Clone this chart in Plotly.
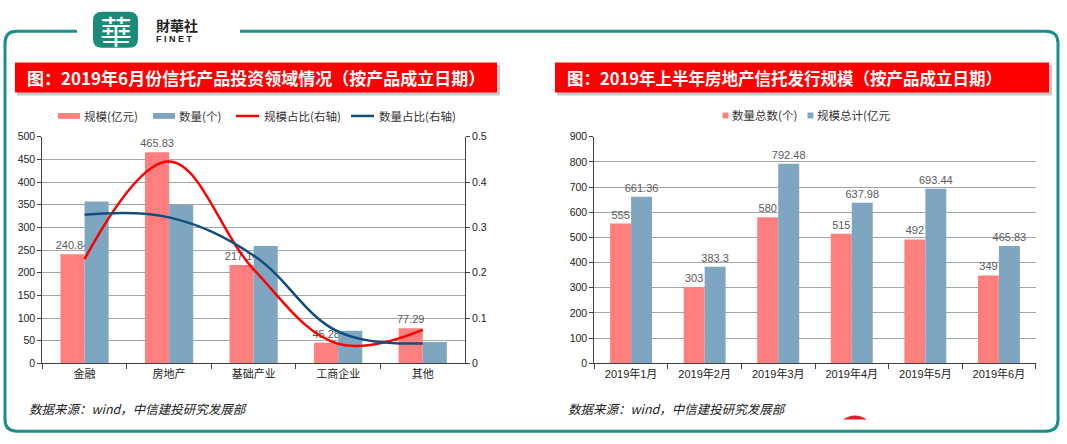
import plotly.graph_objects as go

W, H = 1067, 444

# ---------------- data ----------------
cats1 = ["金融", "房地产", "基础产业", "工商企业", "其他"]
scale1 = [240.84, 465.83, 217.14, 45.28, 77.29]          # 规模(亿元)
count1 = [357, 350, 259, 72, 47]                          # 数量(个)
scale_ratio = [0.230, 0.445, 0.2075, 0.0433, 0.0739]      # 规模占比(右轴)
count_ratio = [0.328, 0.322, 0.238, 0.070, 0.044]         # 数量占比(右轴)

cats2 = ["2019年1月", "2019年2月", "2019年3月", "2019年4月", "2019年5月", "2019年6月"]
count2 = [555, 303, 580, 515, 492, 349]                   # 数量总数(个)
scale2 = [661.36, 383.3, 792.48, 637.98, 693.44, 465.83]  # 规模总计(亿元)

title1 = "图：2019年6月份信托产品投资领域情况（按产品成立日期）"
title2 = "图：2019年上半年房地产信托发行规模（按产品成立日期）"
source = "数据来源：wind，中信建投研究发展部"

PINK = "#FF7F7F"
STEEL = "#7FA6C0"
RED = "#FF0000"
NAVY = "#114E7E"
TEAL = "#1A8F87"
FONT = "Liberation Sans, Noto Sans CJK SC, sans-serif"
CJK = "Noto Sans CJK SC, Liberation Sans, sans-serif"


def X(px):
    return px / W


def Y(py):
    return 1 - py / H


def fmt(v):
    return ("%g" % v)


label_font = dict(size=11, color="#5a5a5a", family=FONT)

fig = go.Figure()

# ---------------- left chart ----------------
fig.add_trace(go.Bar(x=cats1, y=scale1, name="规模(亿元)", marker_color=PINK,
                     marker_line_width=0, text=[fmt(v) for v in scale1],
                     textposition="outside", cliponaxis=False, constraintext="none",
                     textfont=label_font,
                     xaxis="x", yaxis="y", offsetgroup="a", showlegend=False))
fig.add_trace(go.Bar(x=cats1, y=count1, name="数量(个)", marker_color=STEEL,
                     marker_line_width=0, xaxis="x", yaxis="y",
                     offsetgroup="b", showlegend=False))
fig.add_trace(go.Scatter(x=cats1, y=scale_ratio, name="规模占比(右轴)", mode="lines",
                         line=dict(color=RED, width=2.5, shape="spline", smoothing=1.1),
                         xaxis="x", yaxis="y2", showlegend=False))
fig.add_trace(go.Scatter(x=cats1, y=count_ratio, name="数量占比(右轴)", mode="lines",
                         line=dict(color=NAVY, width=2.5, shape="spline", smoothing=1.1),
                         xaxis="x", yaxis="y2", showlegend=False))

# ---------------- right chart ----------------
fig.add_trace(go.Bar(x=cats2, y=count2, name="数量总数(个)", marker_color=PINK,
                     marker_line_width=0, text=[fmt(v) for v in count2],
                     textposition="outside", cliponaxis=False, constraintext="none",
                     textfont=label_font,
                     xaxis="x2", yaxis="y3", offsetgroup="a", showlegend=False))
fig.add_trace(go.Bar(x=cats2, y=scale2, name="规模总计(亿元", marker_color=STEEL,
                     marker_line_width=0, text=[fmt(v) for v in scale2],
                     textposition="outside", cliponaxis=False, constraintext="none",
                     textfont=label_font,
                     xaxis="x2", yaxis="y3", offsetgroup="b", showlegend=False))

ydom = [Y(367.3), Y(134.3)]
axis_common = dict(showline=True, linecolor="#404040", linewidth=1,
                   tickcolor="#404040", tickfont=dict(size=10.5, color="#222", family=FONT),
                   zeroline=False)

fig.update_layout(
    width=W, height=H,
    margin=dict(l=0, r=0, t=0, b=0),
    paper_bgcolor="white", plot_bgcolor="white",
    barmode="group", bargap=0.43, bargroupgap=0,
    xaxis=dict(domain=[X(42.3), X(465)], anchor="y", type="category",
               tickson="boundaries", ticks="outside", ticklen=5,
               range=[-0.5, 4.5], showgrid=False,
               **{**axis_common, "tickfont": dict(size=11, color="#222", family=CJK)}),
    yaxis=dict(domain=ydom, anchor="x", range=[0, 500], dtick=50,
               ticks="outside", ticklen=4, showgrid=True, gridcolor="#a6a6a6",
               gridwidth=1, **axis_common),
    yaxis2=dict(overlaying="y", side="right", anchor="x", range=[0, 0.5], dtick=0.1,
                ticks="outside", ticklen=4, showgrid=False, **axis_common),
    xaxis2=dict(domain=[X(594.3), X(1035.7)], anchor="y3", type="category",
                tickson="boundaries", ticks="outside", ticklen=5,
                range=[-0.5, 5.5], showgrid=False,
                **{**axis_common, "tickfont": dict(size=11, color="#222", family=FONT)}),
    yaxis3=dict(domain=ydom, anchor="x2", range=[0, 900], dtick=100,
                ticks="outside", ticklen=4, showgrid=True, gridcolor="#a6a6a6",
                gridwidth=1, **axis_common),
)

shapes = []
annos = []

# ---------------- frame ----------------
r = 12
frame = (f"M {X(77)},{Y(26)} L {X(5 + r)},{Y(26)} Q {X(5)},{Y(26)} {X(5)},{Y(26 + r)} "
         f"L {X(5)},{Y(437 - r)} Q {X(5)},{Y(437)} {X(5 + r)},{Y(437)} "
         f"L {X(1058 - r)},{Y(437)} Q {X(1058)},{Y(437)} {X(1058)},{Y(437 - r)} "
         f"L {X(1058)},{Y(26 + r)} Q {X(1058)},{Y(26)} {X(1058 - r)},{Y(26)} "
         f"L {X(240)},{Y(26)}")
shapes.append(dict(type="path", xref="paper", yref="paper", path=frame,
                   line=dict(color=TEAL, width=3), layer="below"))

# ---------------- logo ----------------
lr = 9
logo = (f"M {X(93 + lr)},{Y(6)} L {X(138 - lr)},{Y(6)} Q {X(138)},{Y(6)} {X(138)},{Y(6 + lr)} "
        f"L {X(138)},{Y(43 - lr)} Q {X(138)},{Y(43)} {X(138 - lr)},{Y(43)} "
        f"L {X(93 + lr)},{Y(43)} Q {X(93)},{Y(43)} {X(93)},{Y(43 - lr)} "
        f"L {X(93)},{Y(6 + lr)} Q {X(93)},{Y(6)} {X(93 + lr)},{Y(6)} Z")
shapes.append(dict(type="path", xref="paper", yref="paper", path=logo,
                   fillcolor="#1B8A78", line=dict(width=0)))
annos.append(dict(x=X(115.5), y=Y(25), xref="paper", yref="paper", text="華",
                  showarrow=False, xanchor="center", yanchor="middle",
                  font=dict(size=32, color="white", family="Noto Sans CJK TC")))
annos.append(dict(x=X(154), y=Y(20), xref="paper", yref="paper", text="<b>財華社</b>",
                  showarrow=False, xanchor="left", yanchor="middle",
                  font=dict(size=14, color="#222", family="Noto Sans CJK TC")))
annos.append(dict(x=X(154), y=Y(34), xref="paper", yref="paper", text="<b>F I N E T</b>",
                  showarrow=False, xanchor="left", yanchor="middle",
                  font=dict(size=9, color="#222", family="Liberation Sans")))

# ---------------- title banners ----------------
for (x0, x1, txt, fs) in [(15, 497, title1, 17), (555, 1049, title2, 16.5)]:
    shapes.append(dict(type="rect", xref="paper", yref="paper",
                       x0=X(x0 + 2), x1=X(x1 + 3), y0=Y(58 + 3), y1=Y(89 + 3),
                       fillcolor="rgba(0,0,0,0.22)", line=dict(width=0)))
    shapes.append(dict(type="rect", xref="paper", yref="paper",
                       x0=X(x0), x1=X(x1), y0=Y(58), y1=Y(89),
                       fillcolor=RED, line=dict(width=0)))
    annos.append(dict(x=X(x0 + 10), y=Y(74), xref="paper", yref="paper",
                      text=f"<b>{txt}</b>", showarrow=False, xanchor="left",
                      yanchor="middle", font=dict(size=fs, color="white", family=CJK)))

# ---------------- legends (manual) ----------------
legend_font = dict(size=11.5, color="#333", family=CJK)
shapes.append(dict(type="rect", xref="paper", yref="paper", x0=X(58), x1=X(80),
                   y0=Y(110), y1=Y(116), fillcolor=PINK, line=dict(width=0)))
shapes.append(dict(type="rect", xref="paper", yref="paper", x0=X(153), x1=X(175),
                   y0=Y(110), y1=Y(116), fillcolor=STEEL, line=dict(width=0)))
shapes.append(dict(type="line", xref="paper", yref="paper", x0=X(236), x1=X(259),
                   y0=Y(113), y1=Y(113), line=dict(color=RED, width=2.5)))
shapes.append(dict(type="line", xref="paper", yref="paper", x0=X(351), x1=X(374),
                   y0=Y(113), y1=Y(113), line=dict(color=NAVY, width=2.5)))
for (xp, t) in [(82, "规模(亿元)"), (177, "数量(个)"), (262, "规模占比(右轴)"), (377, "数量占比(右轴)")]:
    annos.append(dict(x=X(xp), y=Y(113), xref="paper", yref="paper", text=t,
                      showarrow=False, xanchor="left", yanchor="middle", font=legend_font))

shapes.append(dict(type="rect", xref="paper", yref="paper", x0=X(722.5), x1=X(728.5),
                   y0=Y(109.5), y1=Y(115.5), fillcolor=PINK, line=dict(width=0)))
shapes.append(dict(type="rect", xref="paper", yref="paper", x0=X(807.5), x1=X(813.5),
                   y0=Y(109.5), y1=Y(115.5), fillcolor=STEEL, line=dict(width=0)))
for (xp, t) in [(730, "数量总数(个)"), (815, "规模总计(亿元")]:
    annos.append(dict(x=X(xp), y=Y(112.5), xref="paper", yref="paper", text=t,
                      showarrow=False, xanchor="left", yanchor="middle", font=legend_font))

# ---------------- sources ----------------
for xp in (27, 566):
    annos.append(dict(x=X(xp), y=Y(414), xref="paper", yref="paper",
                      text=f"<i>{source}</i>", showarrow=False, xanchor="left",
                      yanchor="middle", font=dict(size=12.5, color="#222", family=CJK)))

# small red mark at bottom
shapes.append(dict(type="path", xref="paper", yref="paper",
                   path=f"M {X(843)},{Y(425)} Q {X(855)},{Y(417)} {X(867)},{Y(425)} Z",
                   fillcolor="#E0202A", line=dict(width=0)))

fig.update_layout(shapes=shapes, annotations=annos)

fig.write_html("out.html", config={"displayModeBar": False},
               post_script="document.body.style.margin='0';document.body.style.overflow='hidden';")
